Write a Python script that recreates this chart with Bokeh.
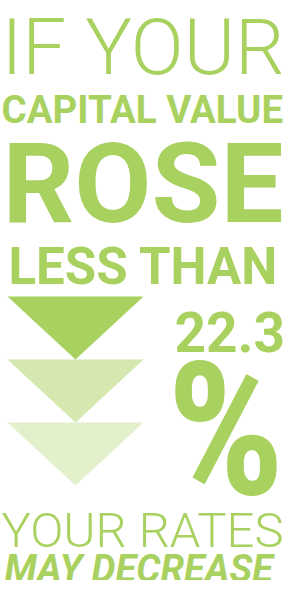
from bokeh.plotting import figure
from bokeh.embed import file_html
from bokeh.resources import INLINE
from bokeh.core.properties import value

GREEN = "#a9d15f"

# text lines of the infographic
lines = ["IF YOUR", "CAPITAL VALUE", "ROSE", "LESS THAN", "22.3", "%", "YOUR RATES", "MAY DECREASE"]
fonts = ["Roboto Light", "Roboto", "Roboto", "Roboto", "Roboto", "Roboto Condensed", "Roboto Light", "Roboto"]
styles = ["normal", "bold", "bold", "bold", "bold", "bold", "normal", "bold italic"]
sizes = [78, 38.5, 112, 51, 55, 185, 49, 38]
xs = [1, 1, 2, 8, 174, 166, 1, 4]
ys = [46.5, 109, 183.2, 265.7, 331.7, 430, 530, 568]

# three downward arrows, fading
tiers = [0, 1, 2]
tier_alpha = [1.0, 0.5, 0.32]

p = figure(width=285, height=580, x_range=(0, 285), y_range=(580, 0),
           output_backend="svg", toolbar_location=None, min_border=0)
p.axis.visible = False
p.grid.visible = False
p.outline_line_color = None

tri_left, tri_w, tri_top, tri_h = 7, 136, 296, 63
for t, a in zip(tiers, tier_alpha):
    top = tri_top + t * tri_h
    p.patch(x=[tri_left, tri_left + tri_w, tri_left + tri_w / 2],
            y=[top, top, top + tri_h], fill_color=GREEN, fill_alpha=a, line_color=None)

for s, f, st, sz, x, y in zip(lines, fonts, styles, sizes, xs, ys):
    p.text(x=[x], y=[y], text=[s], text_font=value(f), text_font_style=st,
           text_font_size=f"{sz}px", text_color=GREEN, text_baseline="alphabetic")

open("out.html", "w").write(file_html(p, INLINE))
